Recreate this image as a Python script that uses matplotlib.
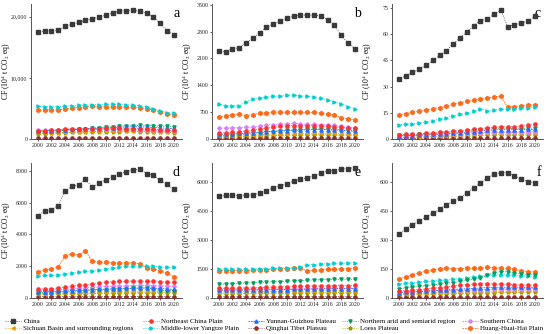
import matplotlib
matplotlib.use('Agg')
import matplotlib.pyplot as plt
from matplotlib.ticker import FuncFormatter

plt.rcParams.update({'font.family': ['Liberation Serif', 'DejaVu Serif'],
                     'mathtext.fontset': 'stix',
                     'axes.linewidth': 0.7,
                     'axes.edgecolor': '#555555'})

# data (10^4 t CO2 eq)
years = list(range(2000, 2021))

names = ['China', 'Northeast China Plain', 'Yunnan-Guizhou Plateau',
         'Northern arid and semiarid region', 'Southern China',
         'Sichuan Basin and surrounding regions', 'Middle-lower Yangtze Plain',
         'Qinghai Tibet Plateau', 'Loess Plateau', 'Huang-Huai-Hai Plain']

# panel a
china_a = [17550, 17660, 17720, 17770, 18480, 18750, 19080, 19460, 19670, 20000, 20270, 20650, 20920, 21030, 21090, 20920, 20600, 19950, 18910, 17720, 17070]
ne_a = [1350, 1360, 1400, 1450, 1700, 1620, 1600, 1640, 1660, 1700, 1720, 1720, 1720, 1710, 1700, 1690, 1650, 1600, 1530, 1470, 1420]
yg_a = [1300, 1320, 1380, 1420, 1500, 1560, 1620, 1680, 1720, 1780, 1830, 1880, 1930, 1970, 1990, 1990, 1950, 1880, 1820, 1760, 1700]
na_a = [1150, 1180, 1250, 1320, 1420, 1500, 1580, 1680, 1780, 1880, 1960, 2020, 2080, 2130, 2180, 2220, 2200, 2150, 2100, 2060, 2000]
sc_a = [1450, 1440, 1460, 1470, 1500, 1520, 1540, 1560, 1570, 1590, 1600, 1610, 1600, 1590, 1560, 1520, 1480, 1430, 1380, 1320, 1280]
sb_a = [1000, 1010, 1040, 1060, 1100, 1140, 1180, 1210, 1240, 1270, 1290, 1300, 1310, 1310, 1300, 1290, 1260, 1220, 1170, 1120, 1080]
mly_a = [5330, 5320, 5280, 5290, 5380, 5420, 5500, 5560, 5580, 5640, 5680, 5700, 5660, 5620, 5540, 5420, 5220, 4960, 4620, 4330, 4240]
qt_a = [110, 110, 112, 112, 115, 115, 118, 118, 120, 120, 122, 122, 124, 124, 125, 125, 125, 124, 122, 120, 118]
lp_a = [880, 900, 930, 970, 1020, 1070, 1110, 1140, 1170, 1190, 1200, 1210, 1220, 1230, 1230, 1220, 1200, 1160, 1120, 1070, 1020]
hhh_a = [4670, 4720, 4760, 4720, 4900, 5050, 5150, 5250, 5330, 5240, 5250, 5260, 5240, 5220, 5200, 5120, 4950, 4800, 4400, 4150, 3970]

# panel b
china_b = [2290, 2280, 2350, 2380, 2500, 2630, 2770, 2910, 3000, 3070, 3155, 3200, 3235, 3225, 3235, 3210, 3115, 2960, 2700, 2500, 2355]
ne_b = [150, 160, 175, 190, 210, 235, 260, 285, 310, 330, 345, 350, 350, 348, 345, 340, 330, 315, 300, 285, 275]
yg_b = [120, 125, 135, 145, 155, 165, 180, 190, 200, 210, 220, 228, 235, 240, 243, 245, 242, 235, 225, 212, 200]
na_b = [95, 100, 110, 120, 135, 150, 165, 180, 195, 210, 225, 235, 245, 252, 258, 260, 255, 248, 240, 230, 220]
sc_b = [285, 288, 292, 295, 300, 320, 340, 360, 375, 390, 400, 413, 395, 385, 380, 375, 370, 355, 330, 305, 285]
sb_b = [80, 85, 90, 95, 100, 105, 112, 118, 124, 130, 135, 140, 145, 148, 150, 150, 148, 145, 140, 135, 130]
mly_b = [914, 862, 862, 862, 974, 1034, 1069, 1086, 1120, 1120, 1155, 1138, 1129, 1112, 1086, 1060, 1017, 974, 914, 845, 785]
qt_b = [18, 18, 19, 19, 20, 20, 20, 21, 21, 21, 22, 22, 22, 22, 22, 22, 22, 22, 21, 21, 21]
lp_b = [55, 58, 62, 66, 70, 75, 80, 85, 90, 94, 98, 102, 105, 108, 110, 110, 108, 106, 104, 102, 100]
hhh_b = [586, 590, 638, 640, 612, 638, 672, 675, 698, 700, 698, 698, 698, 695, 692, 672, 647, 620, 560, 525, 500]

# panel c
china_c = [34.6, 36.0, 38.3, 39.8, 42.3, 45.0, 47.9, 50.4, 54.6, 57.9, 61.3, 64.8, 67.7, 68.7, 71.5, 73.8, 64.4, 65.4, 66.3, 67.7, 70.2]
ne_c = [2.5, 2.6, 2.8, 3.0, 3.3, 3.6, 3.9, 4.1, 4.4, 4.7, 5.1, 5.5, 6.0, 6.4, 6.8, 7.1, 7.0, 7.1, 7.4, 7.8, 8.5]
yg_c = [1.8, 1.9, 2.0, 2.2, 2.4, 2.6, 2.8, 3.0, 3.3, 3.6, 3.9, 4.2, 4.6, 4.9, 5.2, 5.4, 5.3, 5.3, 5.4, 5.5, 5.5]
na_c = [2.2, 2.3, 2.4, 2.6, 2.9, 3.1, 3.3, 3.5, 3.8, 4.1, 4.5, 4.9, 5.3, 5.6, 5.9, 6.2, 6.0, 5.9, 6.0, 6.1, 6.3]
sc_c = [1.8, 1.9, 2.0, 2.1, 2.2, 2.4, 2.5, 2.7, 2.9, 3.1, 3.3, 3.5, 3.7, 3.8, 3.9, 4.0, 3.9, 3.9, 3.9, 4.0, 4.0]
sb_c = [1.0, 1.1, 1.2, 1.3, 1.5, 1.6, 1.8, 2.0, 2.2, 2.4, 2.6, 2.8, 3.0, 3.2, 3.4, 3.5, 3.4, 3.4, 3.4, 3.5, 3.5]
mly_c = [8.2, 8.5, 8.8, 9.2, 9.7, 10.5, 11.5, 12.3, 13.3, 14.2, 15.0, 15.8, 17.2, 16.2, 16.7, 17.2, 17.0, 17.2, 17.5, 17.8, 18.2]
qt_c = [0.3, 0.3, 0.3, 0.3, 0.3, 0.3, 0.3, 0.3, 0.3, 0.3, 0.3, 0.3, 0.3, 0.3, 0.3, 0.3, 0.3, 0.3, 0.3, 0.3, 0.3]
lp_c = [0.8, 0.9, 1.0, 1.0, 1.1, 1.2, 1.3, 1.4, 1.5, 1.7, 1.8, 1.9, 2.1, 2.2, 2.3, 2.4, 2.3, 2.3, 2.4, 2.4, 2.5]
hhh_c = [13.7, 14.5, 15.2, 15.9, 16.6, 17.4, 18.0, 18.8, 19.8, 20.7, 21.5, 22.2, 22.8, 23.4, 24.0, 24.4, 18.2, 18.5, 18.8, 19.2, 19.6]

# panel d
china_d = [5184, 5478, 5561, 5813, 6737, 7030, 7114, 7471, 6968, 7240, 7450, 7597, 7807, 7954, 8038, 8122, 7828, 7744, 7408, 7156, 6842]
ne_d = [546, 588, 590, 630, 672, 735, 798, 840, 882, 966, 1008, 1029, 1050, 1050, 1071, 1071, 1050, 1050, 1029, 1008, 987]
yg_d = [378, 390, 405, 420, 440, 460, 480, 500, 520, 540, 560, 575, 588, 600, 615, 625, 630, 620, 600, 570, 546]
na_d = [336, 350, 365, 380, 400, 420, 440, 460, 480, 500, 520, 540, 560, 580, 600, 620, 630, 560, 470, 465, 462]
sc_d = [462, 480, 500, 525, 550, 580, 610, 640, 670, 700, 725, 745, 756, 770, 785, 798, 790, 780, 765, 750, 735]
sb_d = [273, 280, 290, 300, 315, 330, 345, 360, 375, 390, 400, 410, 420, 425, 430, 430, 428, 425, 422, 420, 420]
mly_d = [1364, 1427, 1427, 1448, 1532, 1574, 1637, 1679, 1700, 1742, 1847, 1889, 1952, 1994, 1994, 2036, 1994, 1994, 1952, 1931, 1931]
qt_d = [84, 84, 85, 85, 86, 86, 87, 87, 88, 88, 89, 89, 90, 90, 90, 90, 90, 90, 89, 89, 88]
lp_d = [231, 236, 242, 248, 255, 262, 270, 278, 286, 294, 300, 306, 312, 318, 324, 330, 332, 334, 335, 336, 336]
hhh_d = [1637, 1784, 1826, 1952, 2623, 2791, 2707, 2959, 2330, 2245, 2245, 2204, 2204, 2204, 2204, 2161, 1910, 1847, 1700, 1574, 1322]

# panel e
china_e = [5271, 5323, 5341, 5289, 5341, 5323, 5462, 5549, 5722, 5809, 5930, 6052, 6173, 6208, 6346, 6468, 6589, 6607, 6676, 6711, 6763]
ne_e = [500, 505, 510, 515, 520, 530, 540, 550, 560, 575, 590, 605, 615, 620, 625, 630, 635, 640, 645, 648, 650]
yg_e = [400, 402, 405, 408, 412, 416, 420, 425, 430, 435, 440, 445, 452, 458, 465, 470, 475, 478, 480, 483, 485]
na_e = [710, 725, 740, 755, 770, 790, 805, 820, 830, 845, 860, 880, 900, 920, 935, 945, 955, 960, 965, 968, 970]
sc_e = [430, 433, 436, 440, 444, 448, 452, 456, 460, 465, 470, 475, 480, 485, 490, 492, 494, 496, 498, 500, 500]
sb_e = [310, 312, 315, 318, 322, 326, 330, 334, 338, 342, 346, 350, 355, 360, 365, 368, 371, 374, 376, 378, 380]
mly_e = [1509, 1495, 1495, 1495, 1495, 1509, 1509, 1526, 1543, 1543, 1561, 1578, 1595, 1734, 1734, 1769, 1786, 1803, 1803, 1821, 1838]
qt_e = [60, 60, 61, 61, 62, 62, 63, 63, 64, 64, 65, 65, 66, 66, 67, 67, 67, 68, 68, 68, 68]
lp_e = [225, 227, 230, 233, 236, 240, 243, 246, 249, 252, 255, 258, 261, 264, 267, 270, 272, 274, 276, 278, 280]
hhh_e = [1422, 1422, 1422, 1422, 1422, 1440, 1457, 1474, 1491, 1509, 1526, 1543, 1561, 1387, 1439, 1457, 1491, 1491, 1509, 1526, 1543]

# panel f
china_f = [331, 359, 381, 397, 420, 440, 459, 484, 501, 520, 545, 572, 595, 623, 643, 650, 650, 633, 617, 604, 597]
ne_f = [35, 38, 41, 44, 47, 50, 54, 58, 62, 66, 70, 72, 74, 74, 73, 72, 71, 70, 68, 67, 66]
yg_f = [28, 30, 32, 34, 36, 38, 40, 42, 44, 46, 48, 50, 52, 54, 55, 56, 56, 56, 55, 55, 55]
na_f = [48, 52, 56, 60, 64, 68, 72, 76, 80, 86, 92, 98, 104, 118, 132, 137, 135, 128, 125, 121, 121]
sc_f = [31, 32, 33, 34, 35, 36, 37, 38, 39, 40, 41, 42, 43, 44, 45, 46, 47, 47, 48, 48, 48]
sb_f = [22, 23, 24, 25, 26, 27, 28, 29, 30, 31, 32, 33, 34, 35, 36, 37, 38, 38, 39, 39, 40]
mly_f = [74, 77, 80, 83, 86, 88, 91, 94, 97, 101, 105, 110, 114, 117, 120, 121, 121, 118, 115, 113, 111]
qt_f = [5, 5, 5, 5, 5, 5, 5, 5, 5, 5, 5, 5, 5, 5, 5, 5, 5, 5, 5, 5, 5]
lp_f = [17, 18, 18, 19, 20, 21, 22, 22, 23, 24, 25, 26, 27, 27, 28, 29, 29, 30, 30, 31, 31]
hhh_f = [99, 109, 121, 130, 140, 146, 151, 153, 152, 152, 153, 154, 154, 160, 158, 154, 154, 149, 142, 137, 135]

panels = {
    'a': [china_a, ne_a, yg_a, na_a, sc_a, sb_a, mly_a, qt_a, lp_a, hhh_a],
    'b': [china_b, ne_b, yg_b, na_b, sc_b, sb_b, mly_b, qt_b, lp_b, hhh_b],
    'c': [china_c, ne_c, yg_c, na_c, sc_c, sb_c, mly_c, qt_c, lp_c, hhh_c],
    'd': [china_d, ne_d, yg_d, na_d, sc_d, sb_d, mly_d, qt_d, lp_d, hhh_d],
    'e': [china_e, ne_e, yg_e, na_e, sc_e, sb_e, mly_e, qt_e, lp_e, hhh_e],
    'f': [china_f, ne_f, yg_f, na_f, sc_f, sb_f, mly_f, qt_f, lp_f, hhh_f],
}
yticks = {'a': [0, 10000, 20000], 'b': [0, 700, 1400, 2100, 2800, 3500],
          'c': [0, 15, 30, 45, 60, 75], 'd': [0, 2000, 4000, 6000, 8000],
          'e': [0, 1500, 3000, 4500, 6000], 'f': [0, 150, 300, 450, 600]}
ytops = {'a': 22100, 'b': 3520, 'c': 77.3, 'd': 8500, 'e': 7000, 'f': 700}

colors = ['#3a3a3a', '#ff3030', '#1f6fff', '#00a060', '#d880ff',
          '#e0a000', '#00cfd0', '#8b3030', '#9a9a00', '#ff6a1a']
markers = ['s', 'o', '^', 'v', 'D', '<', '>', 'o', '*', 'h']
msizes = [2.3, 2.3, 2.3, 2.3, 1.9, 2.3, 2.3, 2.3, 2.8, 2.8]
lstyles = [':', ':', (0, (2, 1)), ':', (0, (2, 1)), ':', ':', ':', ':', (0, (2, 1))]

fig = plt.figure(figsize=(5.5, 3.34), dpi=100)
lefts = [31, 212, 392]
row_bottoms = [139, 298]
W, H = 550.0, 334.0

for i, key in enumerate('abcdef'):
    r, c = divmod(i, 3)
    ax = fig.add_axes([lefts[c] / W, 1 - row_bottoms[r] / H, 151 / W, 135 / H])
    series = panels[key]
    for j in range(len(series) - 1, -1, -1):
        ax.plot(years, series[j], linestyle=lstyles[j], color=colors[j], lw=0.6,
                marker=markers[j], markersize=msizes[j], label=names[j],
                zorder=10 - j if j else 20)
    ax.set_xlim(1999, 2021.2)
    ax.set_ylim(0, ytops[key])
    ax.set_xticks(list(range(2000, 2021, 2)))
    ax.set_yticks(yticks[key])
    if key == 'a':
        ax.yaxis.set_major_formatter(FuncFormatter(lambda v, p: '{:,.0f}'.format(v)))
    ax.tick_params(labelsize=4.2, length=1.6, width=0.5, pad=1.0, colors='#222222')
    ax.spines['top'].set_visible(False)
    ax.spines['right'].set_visible(False)
    ax.set_ylabel('CF (10$^4$ t CO$_2$ eq)', fontsize=5.5)
    ax.yaxis.set_label_coords(-0.122, 0.5)
    ax.text(0.985, 0.93, key, transform=ax.transAxes, fontsize=10,
            ha='right', va='center')

handles, labels = ax.get_legend_handles_labels()
handles = handles[::-1]
labels = labels[::-1]
# one small legend per column so the columns sit where the reference has them
col_x = [5, 143, 248, 342, 462]
for k, x in enumerate(col_x):
    fig.legend([handles[k], handles[k + 5]], [labels[k], labels[k + 5]],
               loc='lower left', bbox_to_anchor=(x / W, 0.008), frameon=False,
               fontsize=5.0, handlelength=2.3, handletextpad=0.35,
               labelspacing=0.2, borderaxespad=0, borderpad=0)

plt.savefig('out.png', dpi=100)
